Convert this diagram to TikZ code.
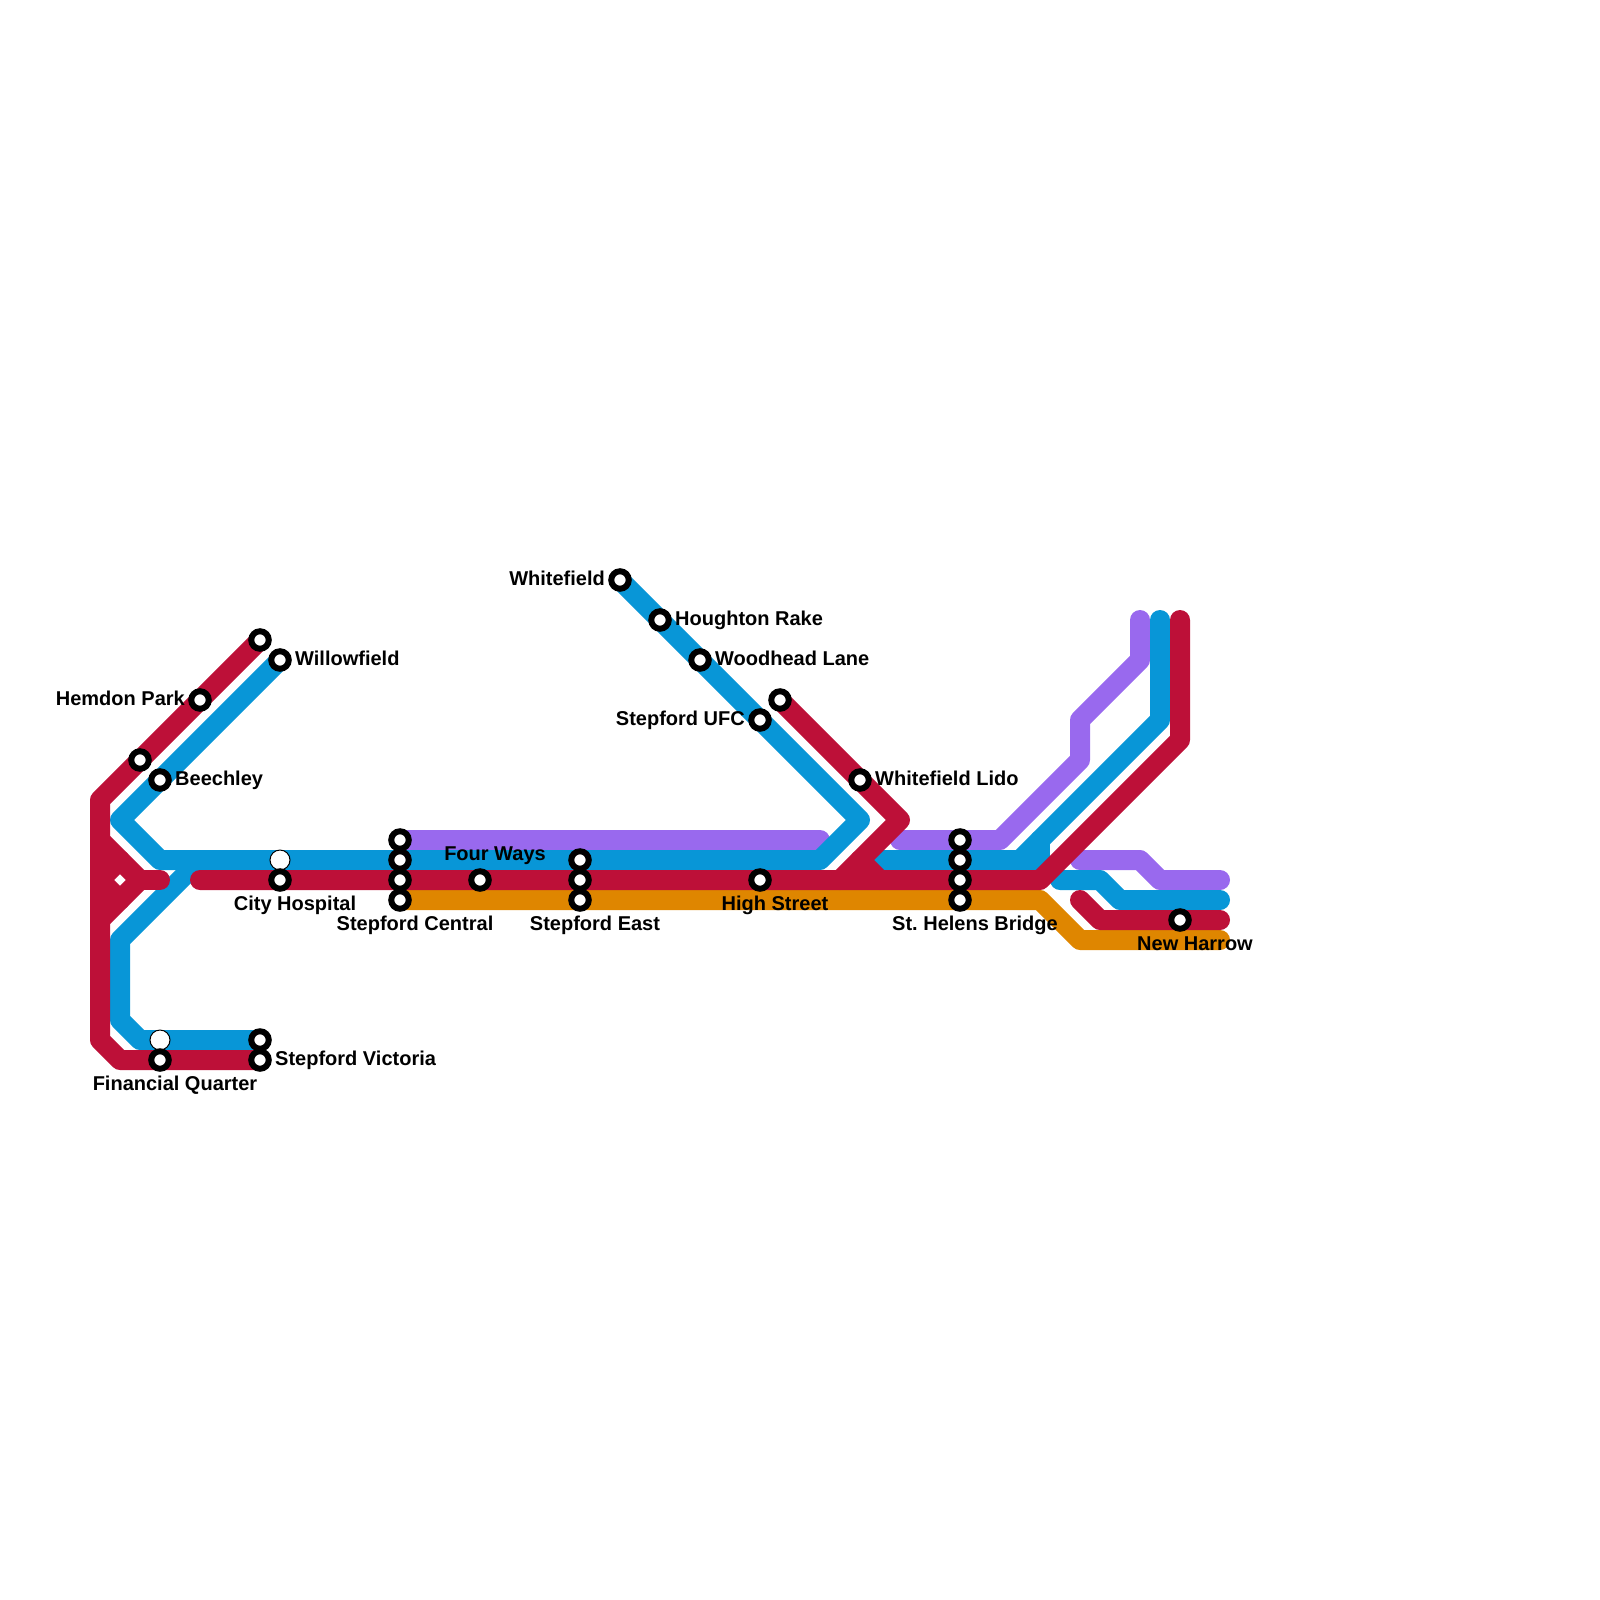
\documentclass[tikz,border=0pt]{standalone}
\usepackage{fontspec}
\setmainfont{Liberation Sans}
\usepackage{tikz}
\usetikzlibrary{calc}
\definecolor{LineRed}{HTML}{BD1038}
\definecolor{LineBlue}{HTML}{0896D7}
\definecolor{LinePurple}{HTML}{9969EE}
\definecolor{LineOrange}{HTML}{DF8600}
\begin{document}
\begin{tikzpicture}[
            x=1pt, y=-1pt,
            route/.style={line width=20pt, line cap=round, line join=round},
            stn/.style={circle, draw=black, line width=6pt, fill=white, minimum size=17.5pt, inner sep=0pt, outer sep=0pt},
            plainstn/.style={circle, draw=black, line width=1pt, fill=white, minimum size=20pt, inner sep=0pt, outer sep=0pt},
            lbl/.style={font=\fontsize{20pt}{22pt}\selectfont\bfseries, text=black, inner sep=0pt},
            lblE/.style={lbl, anchor=base west},
            lblW/.style={lbl, anchor=base east},
            lblS/.style={lbl, anchor=base}
        ]
        \useasboundingbox (0,0) rectangle (1600,1600);

        % Bends of the red routes
        \coordinate (ra1) at (260,640);
        \coordinate (ra2) at (100,800);
        \coordinate (ra3) at (100,1040);
        \coordinate (ra4) at (120,1060);
        \coordinate (ra5) at (260,1060);
        \coordinate (rb1) at (100,840);
        \coordinate (rb2) at (140,880);
        \coordinate (rb3) at (100,920);
        \coordinate (rb4) at (160,880);
        \coordinate (rb5) at (120,860);
        \coordinate (rb6) at (100,880);
        \coordinate (rb7) at (120,900);
        \coordinate (rc1) at (200,880);
        \coordinate (rc2) at (1040,880);
        \coordinate (rc3) at (1180,740);
        \coordinate (rc4) at (1180,620);
        \coordinate (rd1) at (780,700);
        \coordinate (rd2) at (900,820);
        \coordinate (rd3) at (840,880);
        \coordinate (rd4) at (860,860);
        \coordinate (rd5) at (880,880);
        \coordinate (re1) at (1080,900);
        \coordinate (re2) at (1100,920);
        \coordinate (re3) at (1220,920);

        % Bends of the blue routes
        \coordinate (ba1) at (280,660);
        \coordinate (ba2) at (120,820);
        \coordinate (ba3) at (160,860);
        \coordinate (ba4) at (820,860);
        \coordinate (ba5) at (860,820);
        \coordinate (ba6) at (620,580);
        \coordinate (bb1) at (200,860);
        \coordinate (bb2) at (120,940);
        \coordinate (bb3) at (120,1020);
        \coordinate (bb4) at (140,1040);
        \coordinate (bb5) at (260,1040);
        \coordinate (bc1) at (880,860);
        \coordinate (bc2) at (1040,860);
        \coordinate (bc3) at (1040,840);
        \coordinate (bc4) at (1020,860);
        \coordinate (bc5) at (1160,720);
        \coordinate (bc6) at (1160,620);
        \coordinate (bd1) at (1060,880);
        \coordinate (bd2) at (1100,880);
        \coordinate (bd3) at (1120,900);
        \coordinate (bd4) at (1220,900);

        % Bends of the purple routes
        \coordinate (pa1) at (400,840);
        \coordinate (pa2) at (820,840);
        \coordinate (pb1) at (900,840);
        \coordinate (pb2) at (1000,840);
        \coordinate (pb3) at (1080,760);
        \coordinate (pb4) at (1080,720);
        \coordinate (pb5) at (1140,660);
        \coordinate (pb6) at (1140,620);
        \coordinate (pc1) at (1080,860);
        \coordinate (pc2) at (1140,860);
        \coordinate (pc3) at (1160,880);
        \coordinate (pc4) at (1220,880);

        % Bends of the orange route
        \coordinate (oa1) at (400,900);
        \coordinate (oa2) at (1040,900);
        \coordinate (oa3) at (1080,940);
        \coordinate (oa4) at (1220,940);

        % The Routes
        \draw[route, LineOrange] (oa1) -- (oa2) -- (oa3) -- (oa4);
        \draw[route, LinePurple] (pa1) -- (pa2);
        \draw[route, LinePurple] (pb1) -- (pb2) -- (pb3) -- (pb4) -- (pb5) -- (pb6);
        \draw[route, LinePurple] (pc1) -- (pc2) -- (pc3) -- (pc4);
        \draw[route, LineBlue] (ba1) -- (ba2) -- (ba3) -- (ba4) -- (ba5) -- (ba6);
        \draw[route, LineBlue] (bb1) -- (bb2) -- (bb3) -- (bb4) -- (bb5);
        \draw[route, LineBlue] (bc1) -- (bc2) -- (bc3);
        \draw[route, LineBlue] (bc4) -- (bc5) -- (bc6);
        \draw[route, LineBlue] (bd1) -- (bd2) -- (bd3) -- (bd4);
        \draw[route, LineRed] (ra1) -- (ra2) -- (ra3) -- (ra4) -- (ra5);
        \draw[route, LineRed] (rb1) -- (rb2) -- (rb3);
        \draw[route, LineRed] (rb2) -- (rb4);
        \draw[route, LineRed] (rb5) -- (rb6) -- (rb7);
        \draw[route, LineRed] (rc1) -- (rc2) -- (rc3) -- (rc4);
        \draw[route, LineRed] (rd1) -- (rd2) -- (rd3);
        \draw[route, LineRed] (rd4) -- (rd5);
        \draw[route, LineRed] (re1) -- (re2) -- (re3);

        % The Stations
        \node[plainstn] (hospitaltop) at (280,860) {};
        \node[plainstn] (financialtop) at (160,1040) {};
        \node[stn] (endtop) at (ra1) {};
        \node[stn] (hemdon) at (200,700) {};
        \node[stn] (hemdonlow) at (140,760) {};
        \node[stn] (willowfield) at (ba1) {};
        \node[stn] (beechley) at (160,780) {};
        \node[stn] (hospital) at (280,880) {};
        \node[stn] (financial) at (160,1060) {};
        \node[stn] (victoriatop) at (bb5) {};
        \node[stn] (victoria) at (ra5) {};
        \node[stn] (centrala) at (400,840) {};
        \node[stn] (centralb) at (400,860) {};
        \node[stn] (centralc) at (400,880) {};
        \node[stn] (central) at (400,900) {};
        \node[stn] (fourways) at (480,880) {};
        \node[stn] (eastb) at (580,860) {};
        \node[stn] (eastc) at (580,880) {};
        \node[stn] (east) at (580,900) {};
        \node[stn] (whitefield) at (ba6) {};
        \node[stn] (houghton) at (660,620) {};
        \node[stn] (woodhead) at (700,660) {};
        \node[stn] (ufc) at (760,720) {};
        \node[stn] (highstreet) at (760,880) {};
        \node[stn] (lidotop) at (rd1) {};
        \node[stn] (lido) at (860,780) {};
        \node[stn] (helensa) at (960,840) {};
        \node[stn] (helensb) at (960,860) {};
        \node[stn] (helensc) at (960,880) {};
        \node[stn] (helens) at (960,900) {};
        \node[stn] (harrow) at (1180,920) {};

        % Labels
        \node[lblW] (hemdontxt) at ($(hemdon)+(-15,5)$) {Hemdon Park};
        \node[lblE] (willowtxt) at ($(willowfield)+(15,5)$) {Willowfield};
        \node[lblE] (beechtxt) at ($(beechley)+(15,5)$) {Beechley};
        \node[lblS] (hospitaltxt) at ($(hospital)+(15,30)$) {City Hospital};
        \node[lblS] (financialtxt) at ($(financial)+(15,30)$) {Financial Quarter};
        \node[lblE] (victoriatxt) at ($(victoria)+(15,5)$) {Stepford Victoria};
        \node[lblS] (centraltxt) at ($(central)+(15,30)$) {Stepford Central};
        \node[lblS] (fourtxt) at ($(fourways)+(15,-20)$) {Four Ways};
        \node[lblS] (easttxt) at ($(east)+(15,30)$) {Stepford East};
        \node[lblW] (whitetxt) at ($(whitefield)+(-15,5)$) {Whitefield};
        \node[lblE] (houghtontxt) at ($(houghton)+(15,5)$) {Houghton Rake};
        \node[lblE] (woodheadtxt) at ($(woodhead)+(15,5)$) {Woodhead Lane};
        \node[lblW] (ufctxt) at ($(ufc)+(-15,5)$) {Stepford UFC};
        \node[lblS] (hightxt) at ($(highstreet)+(15,30)$) {High Street};
        \node[lblE] (lidotxt) at ($(lido)+(15,5)$) {Whitefield Lido};
        \node[lblS] (helenstxt) at ($(helens)+(15,30)$) {St.\ Helens Bridge};
        \node[lblS] (harrowtxt) at ($(harrow)+(15,30)$) {New Harrow};

\end{tikzpicture}
\end{document}
